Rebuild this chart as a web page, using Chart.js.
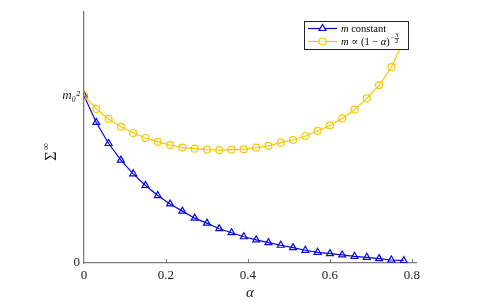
<!DOCTYPE html>
<html>
<head>
<meta charset="utf-8">
<script src="https://cdn.jsdelivr.net/npm/chart.js@4/dist/chart.umd.min.js"></script>
<style>
  html, body { margin: 0; padding: 0; background: #fff; }
  #wrap { width: 479px; height: 308px; }
</style>
</head>
<body>
<div id="wrap"><canvas id="c" width="479" height="308"></canvas></div>
<script>
'use strict';
// ---------- data ----------
const alpha = [0, 0.03, 0.06, 0.09, 0.12, 0.15, 0.18, 0.21, 0.24, 0.27, 0.30, 0.33, 0.36, 0.39,
               0.42, 0.45, 0.48, 0.51, 0.54, 0.57, 0.60, 0.63, 0.66, 0.69, 0.72, 0.75, 0.78];

// m constant
const sigmaConst = [1.0, 0.84, 0.714, 0.615, 0.533, 0.463, 0.403, 0.353, 0.31, 0.268, 0.238, 0.205,
                    0.181, 0.157, 0.138, 0.122, 0.106, 0.092, 0.076, 0.064, 0.056, 0.048, 0.040,
                    0.034, 0.026, 0.018, 0.014];

// m ∝ (1-α)^(-3/2)
const sigmaScaled = [1.0, 0.921, 0.861, 0.814, 0.777, 0.747, 0.724, 0.705, 0.690, 0.683, 0.677, 0.675,
                     0.677, 0.680, 0.689, 0.700, 0.719, 0.735, 0.759, 0.789, 0.822, 0.864, 0.916,
                     0.984, 1.063, 1.17, 1.33];

const xTicks = [0, 0.2, 0.4, 0.6, 0.8];
const xTickLabels = ['0', '0.2', '0.4', '0.6', '0.8'];
const yTicks = [0, 1];
const yTickLabels = ['0', 'm\u2080\u00B2'];

const BLUE = '#0808dc';
const GOLD = '#f7c800';
const AXIS = '#7a7a7a';
const SERIF = '"Liberation Serif", "DejaVu Serif", serif';

const pts = ys => alpha.map((a, i) => ({ x: a, y: ys[i] }));

// Small inward tick marks, matlab style
const innerTicks = {
    id: 'innerTicks',
    afterDatasetsDraw(chart) {
        const { ctx, chartArea: a, scales: { x, y } } = chart;
        ctx.save();
        ctx.strokeStyle = AXIS;
        ctx.lineWidth = 1;
        ctx.beginPath();
        x.ticks.forEach(t => {
            if (t.value === 0) return;
            const px = Math.round(x.getPixelForValue(t.value)) + 0.5;
            ctx.moveTo(px, a.bottom); ctx.lineTo(px, a.bottom - 4);
        });
        y.ticks.forEach(t => {
            if (t.value === 0) return;
            const py = Math.round(y.getPixelForValue(t.value)) + 0.5;
            ctx.moveTo(a.left, py); ctx.lineTo(a.left + 4, py);
        });
        ctx.stroke();
        ctx.restore();
    }
};

// y title: Σ with ∞ superscript, rotated
const yTitle = {
    id: 'yTitle',
    afterDraw(chart) {
        const { ctx } = chart;
        ctx.save();
        ctx.translate(51, 152);
        ctx.rotate(-Math.PI / 2);
        ctx.fillStyle = '#222';
        ctx.textBaseline = 'alphabetic';
        ctx.font = '16px ' + SERIF;
        const w = ctx.measureText('\u03A3').width;
        ctx.fillText('\u03A3', -w / 2 - 4, 5);
        ctx.font = '10px ' + SERIF;
        ctx.fillText('\u221E', w / 2 - 3, -2);
        ctx.restore();
    }
};

// Legend box inside the plot, drawn over the data
const boxLegend = {
    id: 'boxLegend',
    afterDraw(chart) {
        const { ctx, chartArea: a } = chart;
        const bx = a.right - 112, by = a.top + 9, bw = 104, bh = 28;
        ctx.save();
        ctx.fillStyle = '#fff';
        ctx.fillRect(bx, by, bw, bh);
        ctx.strokeStyle = '#222';
        ctx.lineWidth = 1;
        ctx.strokeRect(bx + 0.5, by + 0.5, bw, bh);

        const rows = [by + 7.5, by + 20.5];
        chart.data.datasets.forEach((ds, i) => {
            const ry = rows[i];
            ctx.strokeStyle = ds.borderColor;
            ctx.lineWidth = ds.borderWidth;
            ctx.beginPath();
            ctx.moveTo(bx + 4, ry); ctx.lineTo(bx + 33, ry);
            ctx.stroke();
            ctx.lineWidth = ds.pointBorderWidth;
            Chart.helpers.drawPoint(ctx, {
                pointStyle: ds.pointStyle, radius: ds.pointRadius,
                borderWidth: ds.pointBorderWidth, rotation: 0
            }, bx + 18.5, ry);
        });

        ctx.fillStyle = '#000';
        ctx.textBaseline = 'middle';
        let tx = bx + 37;
        const put = (s, font, dy) => {
            ctx.font = font;
            ctx.fillText(s, tx, rows.cur + (dy || 0));
            tx += ctx.measureText(s).width;
        };
        const it = 'italic 10.5px ' + SERIF, rm = '10.5px ' + SERIF;

        rows.cur = rows[0] + 1;
        put('m', it); put(' constant', rm);

        tx = bx + 37;
        rows.cur = rows[1] + 1;
        put('m', it); put(' \u221D (1 \u2212 ', rm); put('\u03B1', it); put(')', rm);
        // exponent −3/2 as a tiny stacked fraction
        tx += 1;
        put('\u2212', '7px ' + SERIF, -4);
        ctx.font = '6px ' + SERIF;
        ctx.textAlign = 'center';
        ctx.fillText('3', tx + 2, rows.cur - 7);
        ctx.fillText('2', tx + 2, rows.cur - 1.5);
        ctx.fillRect(tx, rows.cur - 4.5, 4, 0.7);
        ctx.restore();
    }
};

new Chart(document.getElementById('c'), {
    type: 'line',
    data: {
        datasets: [
            {
                label: 'm constant',
                data: pts(sigmaConst),
                borderColor: BLUE,
                backgroundColor: 'rgba(0,0,0,0)',
                borderWidth: 1.2,
                pointStyle: 'triangle',
                pointRadius: 4,
                pointBorderWidth: 1.2,
                pointBackgroundColor: 'rgba(0,0,0,0)',
                pointBorderColor: BLUE,
                tension: 0,
                order: 2,
            },
            {
                label: 'm ∝ (1 − α)^(−3/2)',
                data: pts(sigmaScaled),
                borderColor: GOLD,
                backgroundColor: 'rgba(0,0,0,0)',
                borderWidth: 1.2,
                pointStyle: 'circle',
                pointRadius: 3.5,
                pointBorderWidth: 1.2,
                pointBackgroundColor: 'rgba(0,0,0,0)',
                pointBorderColor: GOLD,
                tension: 0,
                order: 1,
            },
        ],
    },
    options: {
        responsive: false,
        animation: false,
        devicePixelRatio: 1,
        layout: { padding: { top: 12, right: 63, left: 0, bottom: 0 } },
        plugins: { legend: { display: false }, tooltip: { enabled: false } },
        scales: {
            x: {
                type: 'linear',
                min: 0,
                max: 0.81,
                afterBuildTicks: s => { s.ticks = xTicks.map(v => ({ value: v })); },
                afterFit: s => { s.height = 45; },
                grid: { display: false, drawTicks: false },
                border: { display: true, color: AXIS, width: 1.3 },
                ticks: {
                    padding: 5,
                    color: '#222',
                    font: { family: SERIF, size: 13 },
                    maxRotation: 0,
                    callback: v => xTickLabels[xTicks.indexOf(v)],
                },
                title: {
                    display: true,
                    text: 'α',
                    color: '#222',
                    font: { family: SERIF, size: 15, style: 'italic' },
                    padding: { top: 0, bottom: 6 },
                },
            },
            y: {
                min: 0,
                max: 1.5,
                afterBuildTicks: s => { s.ticks = yTicks.map(v => ({ value: v })); },
                afterFit: s => { s.width = 84; },
                grid: { display: false, drawTicks: false },
                border: { display: true, color: AXIS, width: 1.3 },
                ticks: {
                    padding: 4,
                    color: '#222',
                    font: c => ({ family: SERIF, size: 13,
                                  style: c.tick && c.tick.value === 1 ? 'italic' : 'normal' }),
                    callback: v => yTickLabels[yTicks.indexOf(v)],
                },
            },
        },
    },
    plugins: [innerTicks, yTitle, boxLegend],
});
</script>
</body>
</html>
